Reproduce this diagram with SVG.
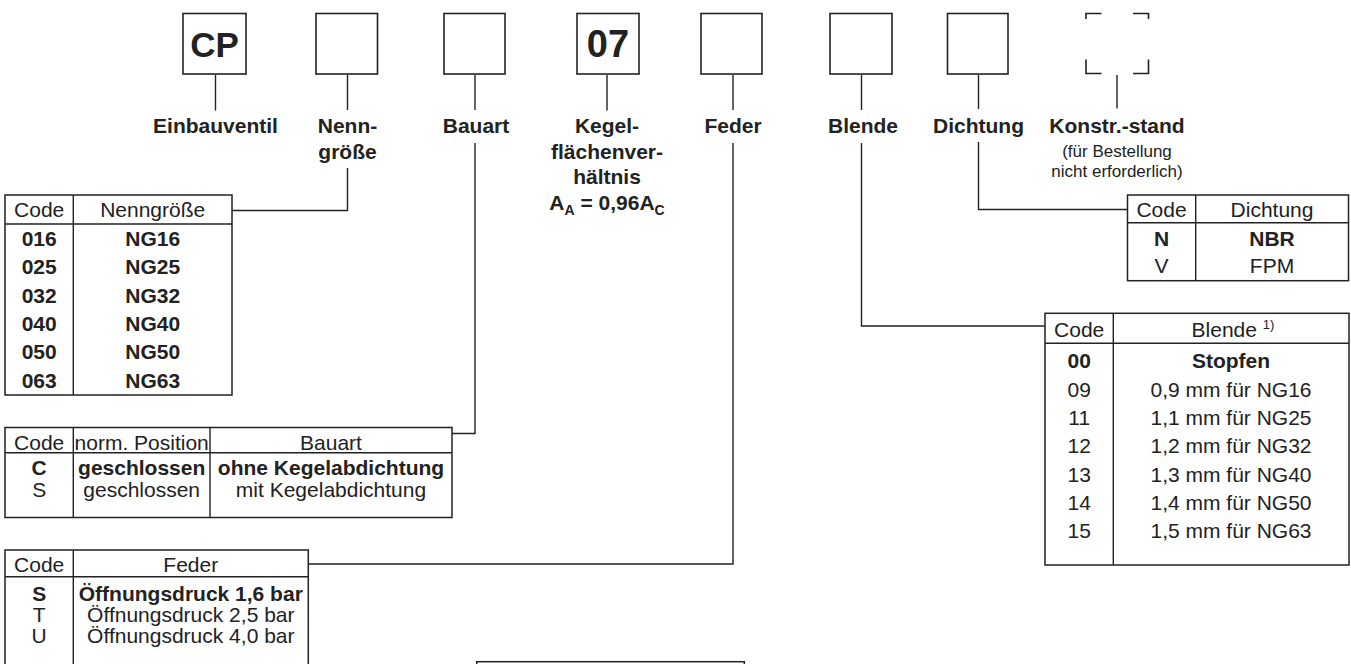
<svg xmlns="http://www.w3.org/2000/svg" width="1351" height="664" viewBox="0 0 1351 664">
<style>
text{font-family:"Liberation Sans",Arial,sans-serif;fill:#222;text-anchor:middle}
.lbl{font-size:21px;font-weight:bold}
.t{font-size:21px}
.b{font-weight:bold}
.big{font-size:35px;font-weight:bold}
.sm{font-size:17px}
.box{fill:none;stroke:#222;stroke-width:1.6}
.tb{fill:#fff;stroke:#222;stroke-width:1.5}
.ln{fill:none;stroke:#222;stroke-width:1.4}
</style>
<rect width="1351" height="664" fill="#fff"/>
<g id="connectors" class="ln">
<path d="M215.5,75 V110.5"/>
<path d="M347.5,75 V110"/>
<path d="M475,75 V110"/>
<path d="M607,75 V110.5"/>
<path d="M733,75 V110"/>
<path d="M861.5,75 V110"/>
<path d="M978.5,75 V109"/>
<path d="M1117,75 V108.5"/>
<path d="M347.5,168 V210.5 H232"/>
<path d="M475,143 V433.5 H452"/>
<path d="M733,143 V564 H308.5"/>
<path d="M861.5,143 V326 H1045"/>
<path d="M978.5,142 V209.5 H1127.5"/>
</g>
<g id="n-cp">
<rect class="box" x="183" y="13.5" width="63" height="60.5"/>
<text class="big" x="214.5" y="56.5">CP</text>
<text class="lbl" x="215.5" y="133">Einbauventil</text>
</g>
<g id="n-nenn">
<rect class="box" x="316" y="13.5" width="61.5" height="60.5"/>
<text class="lbl" x="347.5" y="133">Nenn-</text>
<text class="lbl" x="347.5" y="158.5">größe</text>
</g>
<g id="n-bauart">
<rect class="box" x="444" y="13.5" width="61" height="60.5"/>
<text class="lbl" x="476" y="133">Bauart</text>
</g>
<g id="n-kegel">
<rect class="box" x="577" y="13.5" width="62" height="60.5"/>
<text class="big" x="608" y="56.5" style="font-size:38px">07</text>
<text class="lbl" x="607" y="133">Kegel-</text>
<text class="lbl" x="607" y="158.5">flächenver-</text>
<text class="lbl" x="607" y="184">hältnis</text>
<text class="lbl" x="607" y="209.5">A<tspan font-size="14" dy="5">A</tspan><tspan dy="-5"> = 0,96A</tspan><tspan font-size="14" dy="5">C</tspan></text>
</g>
<g id="n-feder">
<rect class="box" x="701" y="13.5" width="61" height="60.5"/>
<text class="lbl" x="733" y="133">Feder</text>
</g>
<g id="n-blende">
<rect class="box" x="830" y="13.5" width="62" height="60.5"/>
<text class="lbl" x="863" y="133">Blende</text>
</g>
<g id="n-dichtung">
<rect class="box" x="947.5" y="13.5" width="60.5" height="60.5"/>
<text class="lbl" x="978.5" y="133">Dichtung</text>
</g>
<g id="n-konstr">
<path class="box" d="M1086,19 V13.5 H1101.5 M1133,13.5 H1148.5 V19 M1086,59.5 V73.5 H1101.5 M1133,73.5 H1148.5 V59.5"/>
<text class="lbl" x="1117" y="133">Konstr.-stand</text>
<text class="sm" x="1117" y="156.5">(für Bestellung</text>
<text class="sm" x="1117" y="176.5">nicht erforderlich)</text>
</g>
<g id="t-nenngroesse">
<rect class="tb" x="5" y="195" width="227" height="200"/>
<path class="ln" d="M73.3,195 V395 M5,224 H232"/>
<g class="t">
<text x="39.2" y="216.5">Code</text><text x="152.7" y="216.5">Nenngröße</text>
<g class="b">
<text x="39.2" y="246">016</text><text x="152.7" y="246">NG16</text>
<text x="39.2" y="274.3">025</text><text x="152.7" y="274.3">NG25</text>
<text x="39.2" y="302.7">032</text><text x="152.7" y="302.7">NG32</text>
<text x="39.2" y="330.8">040</text><text x="152.7" y="330.8">NG40</text>
<text x="39.2" y="359.3">050</text><text x="152.7" y="359.3">NG50</text>
<text x="39.2" y="388">063</text><text x="152.7" y="388">NG63</text>
</g>
</g>
</g>
<g id="t-bauart">
<rect class="tb" x="5" y="427.5" width="447" height="90"/>
<path class="ln" d="M73.3,427.5 V517.5 M210,427.5 V517.5 M5,452.7 H452"/>
<g class="t">
<text x="39.2" y="450">Code</text><text x="141.7" y="450">norm. Position</text><text x="331" y="450">Bauart</text>
<g class="b"><text x="39.2" y="474.5">C</text><text x="141.7" y="474.5">geschlossen</text><text x="331" y="474.5">ohne Kegelabdichtung</text></g>
<text x="39.2" y="496.5">S</text><text x="141.7" y="496.5">geschlossen</text><text x="331" y="496.5">mit Kegelabdichtung</text>
</g>
</g>
<g id="t-feder">
<rect class="tb" x="5" y="550" width="303.3" height="130"/>
<path class="ln" d="M73.3,550 V680 M5,576.7 H308.3"/>
<g class="t">
<text x="39.2" y="571.5">Code</text><text x="190.8" y="571.5">Feder</text>
<g class="b"><text x="39.2" y="600.5">S</text><text x="190.8" y="600.5">Öffnungsdruck 1,6 bar</text></g>
<text x="39.2" y="621.7">T</text><text x="190.8" y="621.7">Öffnungsdruck 2,5 bar</text>
<text x="39.2" y="642.7">U</text><text x="190.8" y="642.7">Öffnungsdruck 4,0 bar</text>
</g>
</g>
<g id="t-dichtung">
<rect class="tb" x="1127.5" y="195" width="221" height="85.7"/>
<path class="ln" d="M1195.7,195 V280.7 M1127.5,222.7 H1348.5"/>
<g class="t">
<text x="1161.5" y="216.5">Code</text><text x="1272" y="216.5">Dichtung</text>
<g class="b"><text x="1161.5" y="246">N</text><text x="1272" y="246">NBR</text></g>
<text x="1161.5" y="273.3">V</text><text x="1272" y="273.3">FPM</text>
</g>
</g>
<g id="t-blende">
<rect class="tb" x="1045" y="313.3" width="304" height="251.7"/>
<path class="ln" d="M1113.3,313.3 V565 M1045,343.3 H1349"/>
<g class="t">
<text x="1079.2" y="336.5">Code</text>
<text x="1233" y="336.5">Blende <tspan font-size="13" dy="-8">1)</tspan></text>
<g class="b"><text x="1079.2" y="368.3">00</text><text x="1231" y="368.3">Stopfen</text></g>
<text x="1079.2" y="396.5">09</text><text x="1231" y="396.5">0,9 mm für NG16</text>
<text x="1079.2" y="425">11</text><text x="1231" y="425">1,1 mm für NG25</text>
<text x="1079.2" y="453.3">12</text><text x="1231" y="453.3">1,2 mm für NG32</text>
<text x="1079.2" y="481.7">13</text><text x="1231" y="481.7">1,3 mm für NG40</text>
<text x="1079.2" y="510">14</text><text x="1231" y="510">1,4 mm für NG50</text>
<text x="1079.2" y="538.3">15</text><text x="1231" y="538.3">1,5 mm für NG63</text>
</g>
</g>
<g id="partial-box">
<rect class="tb" x="476.7" y="661.7" width="267.6" height="20"/>
</g>
</svg>
